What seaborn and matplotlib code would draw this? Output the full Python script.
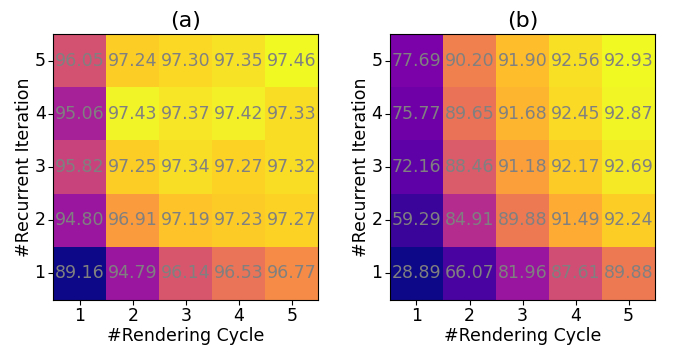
import numpy as np
import pandas as pd
import matplotlib as mpl
mpl.use("Agg")
import matplotlib.pyplot as plt
import seaborn as sns

cycles = [1, 2, 3, 4, 5]
iterations = [1, 2, 3, 4, 5]

# rows = recurrent iteration 1..5, cols = rendering cycle 1..5
acc_a = [
    [89.16, 94.79, 96.14, 96.53, 96.77],
    [94.80, 96.91, 97.19, 97.23, 97.27],
    [95.82, 97.25, 97.34, 97.27, 97.32],
    [95.06, 97.43, 97.37, 97.42, 97.33],
    [96.05, 97.24, 97.30, 97.35, 97.46],
]
acc_b = [
    [28.89, 66.07, 81.96, 87.61, 89.88],
    [59.29, 84.91, 89.88, 91.49, 92.24],
    [72.16, 88.46, 91.18, 92.17, 92.69],
    [75.77, 89.65, 91.68, 92.45, 92.87],
    [77.69, 90.20, 91.90, 92.56, 92.93],
]
titles = ["(a)", "(b)"]

fig, axes = plt.subplots(1, 2, figsize=(6.74, 3.49), dpi=100)
plt.subplots_adjust(left=0.079, right=0.972, bottom=0.14, top=0.903, wspace=0.27)

for ax, acc, title in zip(axes, [acc_a, acc_b], titles):
    df = pd.DataFrame(acc, index=iterations, columns=cycles)
    # colour follows inverse error, which is how the original shades the cells
    shade = 1.0 / (100.0 - df)
    sns.heatmap(shade, annot=df, fmt=".2f", cmap="plasma", cbar=False,
                square=True, ax=ax, annot_kws={"color": "gray", "fontsize": 12.5})
    ax.invert_yaxis()
    for s in ax.spines.values():
        s.set_visible(True)
        s.set_color("black")
        s.set_linewidth(0.8)
    ax.set_title(title, fontsize=16, pad=5)
    ax.set_xlabel("#Rendering Cycle", fontsize=12.5, labelpad=1)
    ax.set_ylabel("#Recurrent Iteration", fontsize=12.5, labelpad=1)
    ax.tick_params(labelsize=12.5, length=3.5, width=0.8, pad=2)
    ax.set_yticklabels(iterations, rotation=0)

fig.savefig("out.png", dpi=100)
